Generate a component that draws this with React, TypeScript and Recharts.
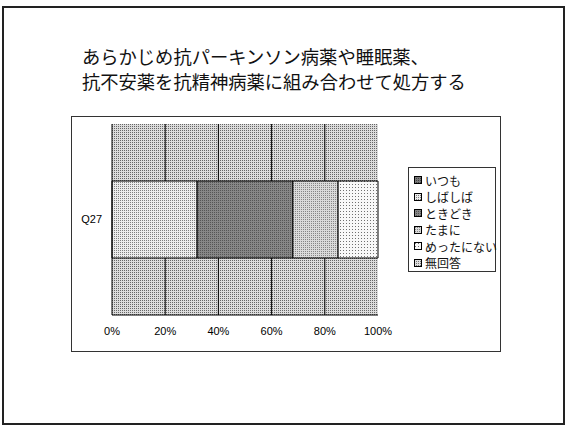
import React from 'react';
import { BarChart, Bar, XAxis, YAxis, CartesianGrid, Legend } from 'recharts';

// Survey item and answer categories
const categories = ['Q27'];
const seriesNames = ['いつも', 'しばしば', 'ときどき', 'たまに', 'めったにない', '無回答'];
// Share of answers (%) for each category, in series order
const q27Values = [0, 32, 36, 17, 15, 0];
const tickValues = [0, 20, 40, 60, 80, 100];
const gridValues = [20, 40, 60, 80];
const titleLines = ['あらかじめ抗パーキンソン病薬や睡眠薬、', '抗不安薬を抗精神病薬に組み合わせて処方する'];

const valuesByCategory = [q27Values];
const data = categories.map((name, i) => {
  const row: Record<string, string | number> = { name };
  seriesNames.forEach((s, j) => {
    row[s] = valuesByCategory[i][j];
  });
  return row;
});

// Halftone-like fills for each series
const patternIds = ['patAlways', 'patOften', 'patSometimes', 'patRarely', 'patSeldom', 'patNone'];

const FONT_JP = '"Noto Sans CJK JP", "Noto Sans", sans-serif';
const FONT_TICK = '"Liberation Sans", Arial, sans-serif';

function Patterns() {
  return (
    <defs>
      <pattern id="patPlot" width="2" height="2" patternUnits="userSpaceOnUse">
        <rect width="2" height="2" fill="#dcdcdc" />
        <rect x="0" y="0" width="1" height="1" fill="#666" />
      </pattern>
      <pattern id="patAlways" width="2" height="2" patternUnits="userSpaceOnUse">
        <rect width="2" height="2" fill="#7a7a7a" />
        <rect x="0" y="0" width="1" height="1" fill="#444" />
      </pattern>
      <pattern id="patOften" width="2" height="2" patternUnits="userSpaceOnUse">
        <rect width="2" height="2" fill="#ececec" />
        <rect x="0" y="0" width="1" height="1" fill="#7e7e7e" />
      </pattern>
      <pattern id="patSometimes" width="2" height="2" patternUnits="userSpaceOnUse">
        <rect width="2" height="2" fill="#878787" />
        <rect x="0" y="0" width="1" height="1" fill="#555" />
      </pattern>
      <pattern id="patRarely" width="2" height="2" patternUnits="userSpaceOnUse">
        <rect width="2" height="2" fill="#dadada" />
        <rect x="1" y="1" width="1" height="1" fill="#858585" />
      </pattern>
      <pattern id="patSeldom" width="3" height="3" patternUnits="userSpaceOnUse">
        <rect width="3" height="3" fill="#f8f8f8" />
        <rect x="1" y="1" width="1" height="1" fill="#707070" />
      </pattern>
      <pattern id="patNone" width="2" height="2" patternUnits="userSpaceOnUse">
        <rect width="2" height="2" fill="#dedede" />
        <rect x="0" y="0" width="1" height="1" fill="#777" />
      </pattern>
    </defs>
  );
}

function LegendBox() {
  return (
    <div
      style={{
        boxSizing: 'border-box',
        width: 88,
        height: 105,
        border: '1px solid #333',
        background: '#fff',
        padding: '4px 0 0 5px',
        fontFamily: FONT_JP,
        fontSize: 12,
        color: '#111',
      }}
    >
      {seriesNames.map((name, i) => (
        <div key={name} style={{ display: 'flex', alignItems: 'center', height: 16.5, whiteSpace: 'nowrap' }}>
          <svg width={8} height={8} style={{ marginRight: 3, flex: 'none' }}>
            <rect x={0.5} y={0.5} width={7} height={7} fill={`url(#${patternIds[i]})`} stroke="#000" />
          </svg>
          <span>{name}</span>
        </div>
      ))}
    </div>
  );
}

// Vertical grid lines at the inner percentage steps, placed through the x axis scale
const gridLineGenerator = (props: any) => {
  const axis = props && props.xAxis;
  const scale = axis && axis.scale;
  if (typeof scale === 'function') {
    return gridValues.map((v) => scale(v));
  }
  if (scale && typeof scale.map === 'function') {
    return gridValues.map((v) => scale.map(v));
  }
  return [];
};

export default function App() {
  return (
    <div style={{ position: 'absolute', left: 0, top: 0, width: 573, height: 427, background: '#fff' }}>
      {/* slide frame */}
      <div
        style={{
          position: 'absolute',
          left: 2,
          top: 6,
          width: 563,
          height: 419,
          boxSizing: 'border-box',
          border: '2px solid #222',
        }}
      />
      {/* title */}
      <div
        style={{
          position: 'absolute',
          left: 82,
          top: 44,
          fontFamily: FONT_JP,
          fontSize: 18.3,
          lineHeight: '25px',
          color: '#111',
          whiteSpace: 'nowrap',
        }}
      >
        {titleLines.map((t) => (
          <div key={t}>{t}</div>
        ))}
      </div>
      {/* chart frame */}
      <div
        style={{
          position: 'absolute',
          left: 71,
          top: 116,
          width: 430,
          height: 236,
          boxSizing: 'border-box',
          border: '1px solid #333',
        }}
      />
      <div style={{ position: 'absolute', left: 0, top: 0 }}>
        <BarChart
          width={573}
          height={427}
          data={data}
          layout="vertical"
          barSize={77}
          margin={{ top: 124, right: 195, bottom: 82, left: 72 }}
        >
          <Patterns />
          <CartesianGrid
            horizontal={false}
            vertical
            verticalCoordinatesGenerator={gridLineGenerator}
            stroke="#000"
            strokeOpacity={1}
            fill="url(#patPlot)"
            fillOpacity={1}
          />
          <XAxis
            type="number"
            domain={[0, 100]}
            ticks={tickValues}
            tickFormatter={(v: number) => `${v}%`}
            axisLine={{ stroke: '#000' }}
            tickLine={false}
            tickSize={0}
            tickMargin={12}
            height={30}
            tick={{ fill: '#000', fontSize: 11, fontFamily: FONT_TICK }}
            interval={0}
          />
          <YAxis
            type="category"
            dataKey="name"
            width={40}
            axisLine={{ stroke: '#000' }}
            tickLine={false}
            tickSize={0}
            tickMargin={10}
            tick={{ fill: '#000', fontSize: 11, fontFamily: FONT_TICK }}
          />
          {seriesNames.map((s, i) => (
            <Bar
              key={s}
              dataKey={s}
              stackId="a"
              fill={`url(#${patternIds[i]})`}
              stroke="#000"
              strokeWidth={1}
              isAnimationActive={false}
            />
          ))}
          <Legend
            layout="vertical"
            align="center"
            verticalAlign="middle"
            content={() => <LegendBox />}
            wrapperStyle={{ position: 'absolute', left: 408, top: 167, width: 88, height: 105 }}
          />
        </BarChart>
      </div>
    </div>
  );
}
